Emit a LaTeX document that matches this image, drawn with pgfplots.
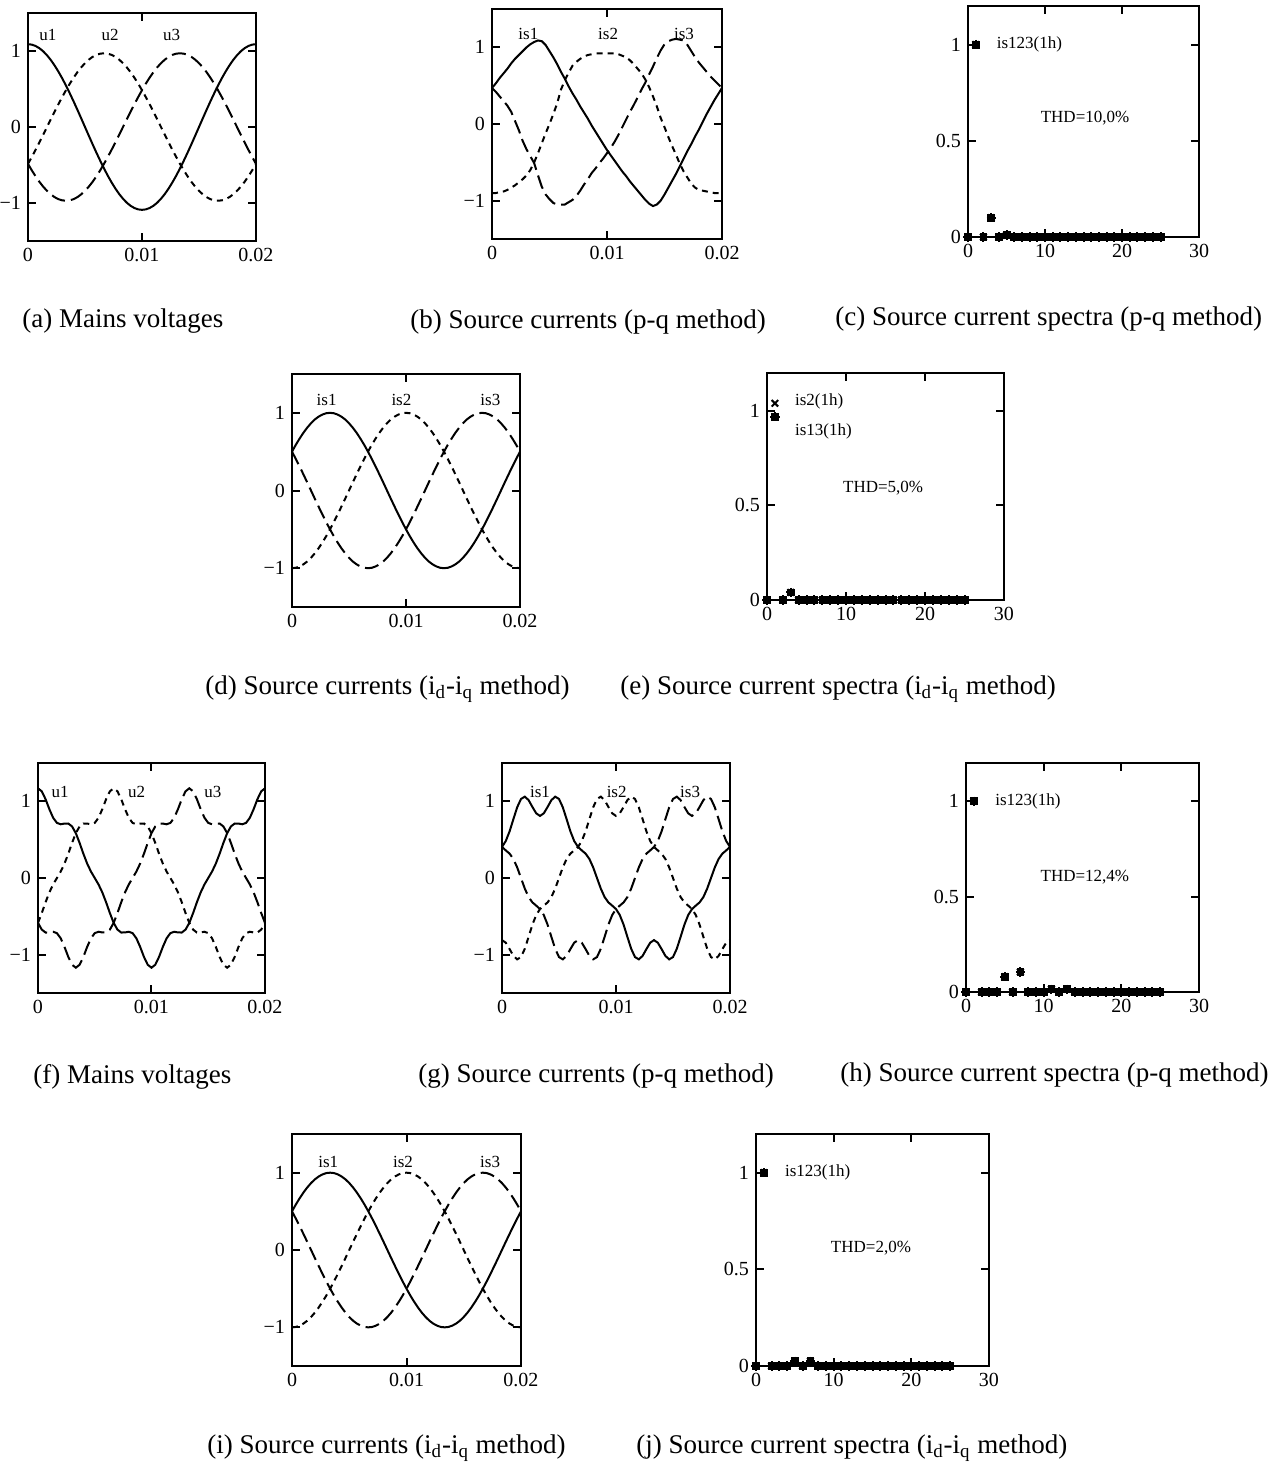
\documentclass[border=0pt]{standalone}
\usepackage{fontspec}
\setmainfont{Liberation Serif}
\usepackage{pgfplots}
\pgfplotsset{compat=1.18}
\usepackage{pgfplotstable}

\tikzset{lbl/.style={font=\fontsize{8.5}{10}\selectfont, inner sep=0pt}}
\pgfplotsset{
  frame/.style={scale only axis, axis line style={line width=1pt},
    tick align=inside, major tick length=4pt,
    every tick/.style={black, line width=1pt},
    xtick pos=both, ytick pos=both,
    tick label style={font=\fontsize{10}{12}\selectfont}},
  wave/.style={frame, xmin=0, xmax=20, ymin=-1.5, ymax=1.5,
    xtick={0,10,20}, xticklabels={0,0.01,0.02},
    ytick={-1,0,1}, yticklabels={−1,0,1}},
  spec/.style={frame, clip=false, xmin=0, xmax=30, ymin=0, ymax=1.2,
    xtick={0,10,20,30}, xticklabels={0,10,20,30},
    ytick={0,0.5,1}, yticklabels={0,0.5,1}},
  ph1/.style={black, line width=1pt},
  ph2/.style={black, line width=1pt, dash pattern=on 3pt off 2.5pt},
  ph3/.style={black, line width=1pt, dash pattern=on 7pt off 3pt},
  m1/.style={only marks, black, mark=square*, mark size=1.7pt},
  m2/.style={only marks, black, mark=x, mark size=2.3pt, mark options={line width=1pt}},
  m3/.style={only marks, black, mark=+, mark size=2.3pt, mark options={line width=1pt}},
}

% time in ms, one period of 50 Hz
\pgfplotstableread{
t u1 u2 u3
0 1.090 -0.485 -0.485
0.333 1.084 -0.394 -0.570
0.667 1.066 -0.300 -0.649
1 1.037 -0.202 -0.721
1.333 0.996 -0.101 -0.785
1.667 0.944 0 -0.840
2 0.882 0.101 -0.886
2.333 0.810 0.202 -0.923
2.667 0.729 0.300 -0.949
3 0.641 0.394 -0.965
3.333 0.545 0.485 -0.970
3.667 0.443 0.570 -0.965
4 0.337 0.649 -0.949
4.333 0.227 0.721 -0.923
4.667 0.114 0.785 -0.886
5 0 0.840 -0.840
5.333 -0.114 0.886 -0.785
5.667 -0.227 0.923 -0.721
6 -0.337 0.949 -0.649
6.333 -0.443 0.965 -0.570
6.667 -0.545 0.970 -0.485
7 -0.641 0.965 -0.394
7.333 -0.729 0.949 -0.300
7.667 -0.810 0.923 -0.202
8 -0.882 0.886 -0.101
8.333 -0.944 0.840 0
8.667 -0.996 0.785 0.101
9 -1.037 0.721 0.202
9.333 -1.066 0.649 0.300
9.667 -1.084 0.570 0.394
10 -1.090 0.485 0.485
10.333 -1.084 0.394 0.570
10.667 -1.066 0.300 0.649
11 -1.037 0.202 0.721
11.333 -0.996 0.101 0.785
11.667 -0.944 0 0.840
12 -0.882 -0.101 0.886
12.333 -0.810 -0.202 0.923
12.667 -0.729 -0.300 0.949
13 -0.641 -0.394 0.965
13.333 -0.545 -0.485 0.970
13.667 -0.443 -0.570 0.965
14 -0.337 -0.649 0.949
14.333 -0.227 -0.721 0.923
14.667 -0.114 -0.785 0.886
15 0 -0.840 0.840
15.333 0.114 -0.886 0.785
15.667 0.227 -0.923 0.721
16 0.337 -0.949 0.649
16.333 0.443 -0.965 0.570
16.667 0.545 -0.970 0.485
17 0.641 -0.965 0.394
17.333 0.729 -0.949 0.300
17.667 0.810 -0.923 0.202
18 0.882 -0.886 0.101
18.333 0.944 -0.840 0
18.667 0.996 -0.785 -0.101
19 1.037 -0.721 -0.202
19.333 1.066 -0.649 -0.300
19.667 1.084 -0.570 -0.394
20 1.090 -0.485 -0.485
}\tabA

\pgfplotstableread{
t i1 i2 i3
0 0.47 -0.90 0.47
0.333 0.53 -0.90 0.42
0.667 0.60 -0.89 0.36
1 0.66 -0.88 0.30
1.333 0.72 -0.86 0.24
1.667 0.79 -0.83 0.16
2 0.85 -0.80 0.04
2.333 0.90 -0.76 -0.08
2.667 0.95 -0.72 -0.22
3 1.00 -0.67 -0.33
3.333 1.04 -0.60 -0.42
3.667 1.07 -0.50 -0.51
4 1.09 -0.38 -0.67
4.333 1.08 -0.25 -0.82
4.667 1.03 -0.12 -0.92
5 0.95 0 -0.98
5.333 0.87 0.13 -1.03
5.667 0.78 0.27 -1.05
6 0.68 0.45 -1.05
6.333 0.59 0.57 -1.05
6.667 0.49 0.67 -1.02
7 0.40 0.76 -0.99
7.333 0.32 0.81 -0.94
7.667 0.23 0.85 -0.87
8 0.15 0.88 -0.79
8.333 0.07 0.90 -0.72
8.667 -0.02 0.91 -0.64
9 -0.10 0.92 -0.58
9.333 -0.18 0.92 -0.51
9.667 -0.26 0.92 -0.45
10 -0.34 0.92 -0.38
10.333 -0.41 0.92 -0.31
10.667 -0.48 0.92 -0.23
11 -0.55 0.91 -0.14
11.333 -0.62 0.89 -0.04
11.667 -0.68 0.87 0.06
12 -0.75 0.83 0.16
12.333 -0.81 0.78 0.25
12.667 -0.87 0.72 0.35
13 -0.93 0.66 0.45
13.333 -0.99 0.58 0.54
13.667 -1.04 0.48 0.65
14 -1.07 0.36 0.75
14.333 -1.05 0.23 0.86
14.667 -1.00 0.08 0.96
15 -0.92 -0.04 1.04
15.333 -0.83 -0.17 1.08
15.667 -0.74 -0.29 1.10
16 -0.65 -0.40 1.11
16.333 -0.55 -0.52 1.10
16.667 -0.45 -0.62 1.09
17 -0.35 -0.70 1.03
17.333 -0.26 -0.78 0.95
17.667 -0.16 -0.83 0.87
18 -0.07 -0.86 0.80
18.333 0.03 -0.87 0.74
18.667 0.13 -0.88 0.68
19 0.22 -0.89 0.62
19.333 0.31 -0.90 0.57
19.667 0.39 -0.90 0.52
20 0.47 -0.90 0.47
}\tabB

\pgfplotstableread{
t i1 i2 i3
0 0.5 -1 0.5
0.333 0.588 -0.995 0.407
0.667 0.669 -0.978 0.309
1 0.743 -0.951 0.208
1.333 0.809 -0.914 0.105
1.667 0.866 -0.866 0
2 0.914 -0.809 -0.105
2.333 0.951 -0.743 -0.208
2.667 0.978 -0.669 -0.309
3 0.995 -0.588 -0.407
3.333 1 -0.5 -0.5
3.667 0.995 -0.407 -0.588
4 0.978 -0.309 -0.669
4.333 0.951 -0.208 -0.743
4.667 0.914 -0.105 -0.809
5 0.866 0 -0.866
5.333 0.809 0.105 -0.914
5.667 0.743 0.208 -0.951
6 0.669 0.309 -0.978
6.333 0.588 0.407 -0.995
6.667 0.5 0.5 -1
7 0.407 0.588 -0.995
7.333 0.309 0.669 -0.978
7.667 0.208 0.743 -0.951
8 0.105 0.809 -0.914
8.333 0 0.866 -0.866
8.667 -0.105 0.914 -0.809
9 -0.208 0.951 -0.743
9.333 -0.309 0.978 -0.669
9.667 -0.407 0.995 -0.588
10 -0.5 1 -0.5
10.333 -0.588 0.995 -0.407
10.667 -0.669 0.978 -0.309
11 -0.743 0.951 -0.208
11.333 -0.809 0.914 -0.105
11.667 -0.866 0.866 0
12 -0.914 0.809 0.105
12.333 -0.951 0.743 0.208
12.667 -0.978 0.669 0.309
13 -0.995 0.588 0.407
13.333 -1 0.5 0.5
13.667 -0.995 0.407 0.588
14 -0.978 0.309 0.669
14.333 -0.951 0.208 0.743
14.667 -0.914 0.105 0.809
15 -0.866 0 0.866
15.333 -0.809 -0.105 0.914
15.667 -0.743 -0.208 0.951
16 -0.669 -0.309 0.978
16.333 -0.588 -0.407 0.995
16.667 -0.5 -0.5 1
17 -0.407 -0.588 0.995
17.333 -0.309 -0.669 0.978
17.667 -0.208 -0.743 0.951
18 -0.105 -0.809 0.914
18.333 0 -0.866 0.866
18.667 0.105 -0.914 0.809
19 0.208 -0.951 0.743
19.333 0.309 -0.978 0.669
19.667 0.407 -0.995 0.588
20 0.5 -1 0.5
}\tabD

\pgfplotstableread{
t u1 u2 u3
0 1.170 -0.585 -0.585
0.333 1.131 -0.457 -0.673
0.667 1.028 -0.316 -0.711
1 0.898 -0.188 -0.710
1.333 0.786 -0.084 -0.701
1.667 0.719 0 -0.719
2 0.701 0.084 -0.786
2.333 0.710 0.188 -0.898
2.667 0.711 0.316 -1.028
3 0.673 0.457 -1.131
3.333 0.585 0.585 -1.170
3.667 0.457 0.673 -1.131
4 0.316 0.711 -1.028
4.333 0.188 0.710 -0.898
4.667 0.084 0.701 -0.786
5 0 0.719 -0.719
5.333 -0.084 0.786 -0.701
5.667 -0.188 0.898 -0.710
6 -0.316 1.028 -0.711
6.333 -0.457 1.131 -0.673
6.667 -0.585 1.170 -0.585
7 -0.673 1.131 -0.457
7.333 -0.711 1.028 -0.316
7.667 -0.710 0.898 -0.188
8 -0.701 0.786 -0.084
8.333 -0.719 0.719 0
8.667 -0.786 0.701 0.084
9 -0.898 0.710 0.188
9.333 -1.028 0.711 0.316
9.667 -1.131 0.673 0.457
10 -1.170 0.585 0.585
10.333 -1.131 0.457 0.673
10.667 -1.028 0.316 0.711
11 -0.898 0.188 0.710
11.333 -0.786 0.084 0.701
11.667 -0.719 0 0.719
12 -0.701 -0.084 0.786
12.333 -0.710 -0.188 0.898
12.667 -0.711 -0.316 1.028
13 -0.673 -0.457 1.131
13.333 -0.585 -0.585 1.170
13.667 -0.457 -0.673 1.131
14 -0.316 -0.711 1.028
14.333 -0.188 -0.710 0.898
14.667 -0.084 -0.701 0.786
15 0 -0.719 0.719
15.333 0.084 -0.786 0.701
15.667 0.188 -0.898 0.710
16 0.316 -1.028 0.711
16.333 0.457 -1.131 0.673
16.667 0.585 -1.170 0.585
17 0.673 -1.131 0.457
17.333 0.711 -1.028 0.316
17.667 0.710 -0.898 0.188
18 0.701 -0.786 0.084
18.333 0.719 -0.719 0
18.667 0.786 -0.701 -0.084
19 0.898 -0.710 -0.188
19.333 1.028 -0.711 -0.316
19.667 1.131 -0.673 -0.457
20 1.170 -0.585 -0.585
}\tabF

\pgfplotstableread{
t i1 i2 i3
0 0.405 -0.810 0.405
0.333 0.483 -0.844 0.360
0.667 0.609 -0.927 0.318
1 0.768 -1.016 0.248
1.333 0.923 -1.061 0.138
1.667 1.031 -1.031 0
2 1.061 -0.923 -0.138
2.333 1.016 -0.768 -0.248
2.667 0.927 -0.609 -0.318
3 0.844 -0.483 -0.360
3.333 0.810 -0.405 -0.405
3.667 0.844 -0.360 -0.483
4 0.927 -0.318 -0.609
4.333 1.016 -0.248 -0.768
4.667 1.061 -0.138 -0.923
5 1.031 0 -1.031
5.333 0.923 0.138 -1.061
5.667 0.768 0.248 -1.016
6 0.609 0.318 -0.927
6.333 0.483 0.360 -0.844
6.667 0.405 0.405 -0.810
7 0.360 0.483 -0.844
7.333 0.318 0.609 -0.927
7.667 0.248 0.768 -1.016
8 0.138 0.923 -1.061
8.333 0 1.031 -1.031
8.667 -0.138 1.061 -0.923
9 -0.248 1.016 -0.768
9.333 -0.318 0.927 -0.609
9.667 -0.360 0.844 -0.483
10 -0.405 0.810 -0.405
10.333 -0.483 0.844 -0.360
10.667 -0.609 0.927 -0.318
11 -0.768 1.016 -0.248
11.333 -0.923 1.061 -0.138
11.667 -1.031 1.031 0
12 -1.061 0.923 0.138
12.333 -1.016 0.768 0.248
12.667 -0.927 0.609 0.318
13 -0.844 0.483 0.360
13.333 -0.810 0.405 0.405
13.667 -0.844 0.360 0.483
14 -0.927 0.318 0.609
14.333 -1.016 0.248 0.768
14.667 -1.061 0.138 0.923
15 -1.031 0 1.031
15.333 -0.923 -0.138 1.061
15.667 -0.768 -0.248 1.016
16 -0.609 -0.318 0.927
16.333 -0.483 -0.360 0.844
16.667 -0.405 -0.405 0.810
17 -0.360 -0.483 0.844
17.333 -0.318 -0.609 0.927
17.667 -0.248 -0.768 1.016
18 -0.138 -0.923 1.061
18.333 0 -1.031 1.031
18.667 0.138 -1.061 0.923
19 0.248 -1.016 0.768
19.333 0.318 -0.927 0.609
19.667 0.360 -0.844 0.483
20 0.405 -0.810 0.405
}\tabG

% harmonic spectra, order n, per-unit amplitude of the three phases
\pgfplotstableread{
n a b c
0 0 0 0
1 1 1 1
2 0 0 0
3 0.1 0.1 0.1
4 0 0 0
5 0.01 0.01 0.01
6 0 0 0
7 0 0 0
8 0 0 0
9 0 0 0
10 0 0 0
11 0 0 0
12 0 0 0
13 0 0 0
14 0 0 0
15 0 0 0
16 0 0 0
17 0 0 0
18 0 0 0
19 0 0 0
20 0 0 0
21 0 0 0
22 0 0 0
23 0 0 0
24 0 0 0
25 0 0 0
}\specC

\pgfplotstableread{
n a b c
0 0 0 0
1 0.97 1.04 0.97
2 0 0 0
3 0.04 0.04 0.04
4 0 0 0
5 0 0 0
6 0 0 0
7 0 0 0
8 0 0 0
9 0 0 0
10 0 0 0
11 0 0 0
12 0 0 0
13 0 0 0
14 0 0 0
15 0 0 0
16 0 0 0
17 0 0 0
18 0 0 0
19 0 0 0
20 0 0 0
21 0 0 0
22 0 0 0
23 0 0 0
24 0 0 0
25 0 0 0
}\specE

\pgfplotstableread{
n a b c
0 0 0 0
1 1 1 1
2 0 0 0
3 0 0 0
4 0 0 0
5 0.08 0.08 0.08
6 0 0 0
7 0.105 0.105 0.105
8 0 0 0
9 0 0 0
10 0 0 0
11 0.015 0.015 0.015
12 0 0 0
13 0.015 0.015 0.015
14 0 0 0
15 0 0 0
16 0 0 0
17 0 0 0
18 0 0 0
19 0 0 0
20 0 0 0
21 0 0 0
22 0 0 0
23 0 0 0
24 0 0 0
25 0 0 0
}\specH

\pgfplotstableread{
n a b c
0 0 0 0
1 1 1 1
2 0 0 0
3 0 0 0
4 0 0 0
5 0.025 0.025 0.025
6 0 0 0
7 0.025 0.025 0.025
8 0 0 0
9 0 0 0
10 0 0 0
11 0 0 0
12 0 0 0
13 0 0 0
14 0 0 0
15 0 0 0
16 0 0 0
17 0 0 0
18 0 0 0
19 0 0 0
20 0 0 0
21 0 0 0
22 0 0 0
23 0 0 0
24 0 0 0
25 0 0 0
}\specJ

\begin{document}
\begin{tikzpicture}
\useasboundingbox (0,0) rectangle (639pt,-732pt);

% ---------- row 1 ----------
\begin{axis}[wave, at={(14pt,-6.5pt)}, anchor=north west, width=114pt, height=114pt]
  \addplot[ph1] table[x=t, y=u1] {\tabA};
  \addplot[ph2] table[x=t, y=u2] {\tabA};
  \addplot[ph3] table[x=t, y=u3] {\tabA};
  \node[lbl] at (axis cs:1.75,1.21) {u1};
  \node[lbl] at (axis cs:7.2,1.21) {u2};
  \node[lbl] at (axis cs:12.6,1.21) {u3};
\end{axis}

\begin{axis}[wave, at={(246pt,-4.5pt)}, anchor=north west, width=115pt, height=115pt]
  \addplot[ph1] table[x=t, y=i1] {\tabB};
  \addplot[ph2] table[x=t, y=i2] {\tabB};
  \addplot[ph3] table[x=t, y=i3] {\tabB};
  \node[lbl] at (axis cs:3.16,1.18) {is1};
  \node[lbl] at (axis cs:10.1,1.18) {is2};
  \node[lbl] at (axis cs:16.7,1.18) {is3};
\end{axis}

\begin{axis}[spec, at={(484pt,-3pt)}, anchor=north west, width=115.5pt, height=115.5pt]
  \addplot[m1] table[x=n, y=a] {\specC};
  \addplot[m2] table[x=n, y=b] {\specC};
  \addplot[m3] table[x=n, y=c] {\specC};
  \node[lbl, anchor=west] at (axis cs:3.7,1.0) {is123(1h)};
  \node[lbl] at (axis cs:15.2,0.62) {THD=10,0\%};
\end{axis}

% ---------- row 2 ----------
\begin{axis}[wave, at={(146pt,-187pt)}, anchor=north west, width=114pt, height=116.5pt]
  \addplot[ph1] table[x=t, y=i1] {\tabD};
  \addplot[ph2] table[x=t, y=i2] {\tabD};
  \addplot[ph3] table[x=t, y=i3] {\tabD};
  \node[lbl] at (axis cs:3.04,1.165) {is1};
  \node[lbl] at (axis cs:9.6,1.165) {is2};
  \node[lbl] at (axis cs:17.4,1.165) {is3};
\end{axis}

\begin{axis}[spec, at={(383.5pt,-186.5pt)}, anchor=north west, width=118.5pt, height=113.5pt]
  \addplot[m1] table[x=n, y=a] {\specE};
  \addplot[m2] table[x=n, y=b] {\specE};
  \addplot[m3] table[x=n, y=c] {\specE};
  \node[lbl, anchor=west] at (axis cs:3.5,1.05) {is2(1h)};
  \node[lbl, anchor=west] at (axis cs:3.5,0.89) {is13(1h)};
  \node[lbl] at (axis cs:14.7,0.59) {THD=5,0\%};
\end{axis}

% ---------- row 3 ----------
\begin{axis}[wave, at={(19pt,-381.5pt)}, anchor=north west, width=113.5pt, height=115pt]
  \addplot[ph1] table[x=t, y=u1] {\tabF};
  \addplot[ph2] table[x=t, y=u2] {\tabF};
  \addplot[ph3] table[x=t, y=u3] {\tabF};
  \node[lbl] at (axis cs:1.94,1.125) {u1};
  \node[lbl] at (axis cs:8.7,1.125) {u2};
  \node[lbl] at (axis cs:15.4,1.125) {u3};
\end{axis}

\begin{axis}[wave, at={(251pt,-381.5pt)}, anchor=north west, width=114pt, height=115pt]
  \addplot[ph1] table[x=t, y=i1] {\tabG};
  \addplot[ph2] table[x=t, y=i2] {\tabG};
  \addplot[ph3] table[x=t, y=i3] {\tabG};
  \node[lbl] at (axis cs:3.33,1.125) {is1};
  \node[lbl] at (axis cs:10.06,1.125) {is2};
  \node[lbl] at (axis cs:16.5,1.125) {is3};
\end{axis}

\begin{axis}[spec, at={(483pt,-381.5pt)}, anchor=north west, width=116.5pt, height=114.5pt]
  \addplot[m1] table[x=n, y=a] {\specH};
  \addplot[m2] table[x=n, y=b] {\specH};
  \addplot[m3] table[x=n, y=c] {\specH};
  \node[lbl, anchor=west] at (axis cs:3.73,1.0) {is123(1h)};
  \node[lbl] at (axis cs:15.3,0.60) {THD=12,4\%};
\end{axis}

% ---------- row 4 ----------
\begin{axis}[wave, at={(146pt,-567pt)}, anchor=north west, width=114.5pt, height=116pt]
  \addplot[ph1] table[x=t, y=i1] {\tabD};
  \addplot[ph2] table[x=t, y=i2] {\tabD};
  \addplot[ph3] table[x=t, y=i3] {\tabD};
  \node[lbl] at (axis cs:3.17,1.14) {is1};
  \node[lbl] at (axis cs:9.7,1.14) {is2};
  \node[lbl] at (axis cs:17.3,1.14) {is3};
\end{axis}

\begin{axis}[spec, at={(378pt,-567pt)}, anchor=north west, width=116.5pt, height=116pt]
  \addplot[m1] table[x=n, y=a] {\specJ};
  \addplot[m2] table[x=n, y=b] {\specJ};
  \addplot[m3] table[x=n, y=c] {\specJ};
  \node[lbl, anchor=west] at (axis cs:3.7,1.0) {is123(1h)};
  \node[lbl] at (axis cs:14.8,0.61) {THD=2,0\%};
\end{axis}

% ---------- captions ----------
\begin{scope}[every node/.style={anchor=base west, inner sep=0pt, font=\fontsize{13.5}{16}\selectfont}]
  \node at (11pt,-163.5pt) {(a) Mains voltages};
  \node at (205pt,-164pt) {(b) Source currents (p-q method)};
  \node at (417.5pt,-162.5pt) {(c) Source current spectra (p-q method)};
  \node at (102.5pt,-347pt) {(d) Source currents (i\textsubscript{d}-i\textsubscript{q} method)};
  \node at (310pt,-347pt) {(e) Source current spectra (i\textsubscript{d}-i\textsubscript{q} method)};
  \node at (16.5pt,-541.5pt) {(f) Mains voltages};
  \node at (209pt,-541pt) {(g) Source currents (p-q method)};
  \node at (420pt,-540.5pt) {(h) Source current spectra (p-q method)};
  \node at (103.5pt,-726.5pt) {(i) Source currents (i\textsubscript{d}-i\textsubscript{q} method)};
  \node at (318pt,-726.5pt) {(j) Source current spectra (i\textsubscript{d}-i\textsubscript{q} method)};
\end{scope}
\end{tikzpicture}
\end{document}
